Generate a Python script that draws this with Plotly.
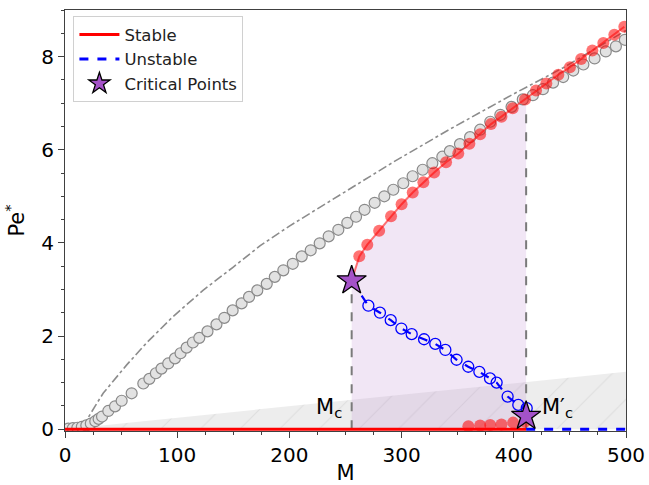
import plotly.graph_objects as go

# ---- data ----
gray_M = [3, 7, 11, 15, 19, 23, 27, 30, 33, 38.6, 44.6, 50.5, 59.4, 69.8, 75.2, 81, 86, 92,
          98, 103, 108.4, 114, 119.7, 127, 135, 142, 149.4, 157.4, 164, 171.4, 179.8, 187,
          194.6, 203, 211, 219, 227, 235, 243.6, 251.6, 259.4, 267, 276, 284.6, 292.6, 301.5,
          309.8, 318.8, 327.4, 336.3, 343, 352, 361, 370, 379, 388, 398, 408, 417, 426, 435,
          444, 453, 462, 472, 482, 491, 499]
gray_Pe = [0.01, 0.02, 0.03, 0.05, 0.08, 0.12, 0.17, 0.22, 0.27, 0.39, 0.49, 0.61, 0.77, 0.98,
           1.08, 1.2, 1.3, 1.41, 1.52, 1.63, 1.75, 1.86, 1.96, 2.1, 2.25, 2.39, 2.55, 2.7, 2.84,
           2.98, 3.12, 3.27, 3.41, 3.55, 3.71, 3.84, 3.99, 4.14, 4.28, 4.43, 4.56, 4.71, 4.86,
           5.0, 5.14, 5.28, 5.43, 5.57, 5.71, 5.85, 5.97, 6.12, 6.27, 6.43, 6.6, 6.75, 6.92,
           7.08, 7.17, 7.3, 7.44, 7.56, 7.7, 7.83, 7.96, 8.11, 8.22, 8.36]

stable_up_M = [262.3, 269.4, 280, 290.6, 300, 309.9, 319.4, 329, 339.6, 350.5, 360.4, 370,
               379.7, 389, 399, 410, 419.8, 429, 439.7, 450, 460, 470, 479.8, 489.6, 498.5]
stable_up_Pe = [3.71, 3.96, 4.26, 4.57, 4.83, 5.08, 5.3, 5.51, 5.73, 5.92, 6.13, 6.33, 6.55,
                6.71, 6.89, 7.08, 7.27, 7.42, 7.61, 7.77, 7.95, 8.13, 8.29, 8.47, 8.64]

unstable_M = [270.4, 280.7, 290.3, 299.8, 309, 320, 330, 339, 349, 359.4, 369.3, 378.8,
              384.7, 394.5, 404, 411.5]
unstable_Pe = [2.65, 2.5, 2.34, 2.16, 2.04, 1.93, 1.83, 1.7, 1.49, 1.34, 1.23, 1.09, 1.0,
               0.7, 0.52, 0.45]

stable_low_M = [359.5, 370, 379, 389, 399.4, 410]
stable_low_Pe = [0.06, 0.08, 0.09, 0.1, 0.14, 0.16]

stable_base_M = [0, 411]
stable_base_Pe = [0, 0]
unstable_base_M = [411, 500]
unstable_base_Pe = [0, 0]

dashdot_M = [15, 20, 27, 34, 55, 73, 96, 123, 150, 174, 200, 251, 293, 343, 400, 444, 500]
dashdot_Pe = [0.05, 0.22, 0.5, 0.77, 1.38, 1.86, 2.41, 2.98, 3.48, 3.94, 4.36, 5.12, 5.74,
              6.44, 7.2, 7.76, 8.56]

wedge_M = [0, 500]
wedge_Pe = [0, 1.23]

crit_M = [255.5, 411]
crit_Pe = [3.19, 0.28]
crit_top_Pe = [3.19, 6.95]
crit_labels = ["M<sub>c</sub>", "M′<sub>c</sub>"]
label_M = [235, 439]
label_Pe = [0.46, 0.46]

x_ticks = [0, 100, 200, 300, 400, 500]
y_ticks = [0, 2, 4, 6, 8]

fig = go.Figure()

# hatched grey wedge
fig.add_trace(go.Scatter(x=wedge_M, y=wedge_Pe, mode="lines", line=dict(width=0, color="rgba(0,0,0,0)"),
                         fill="tozeroy", fillcolor="rgba(232,232,232,0.85)",
                         fillpattern=dict(shape="/", bgcolor="rgba(234,234,234,0.85)",
                                          fgcolor="rgba(205,205,205,0.9)", size=28, solidity=0.04),
                         showlegend=False, hoverinfo="skip"))

# purple bistable region under the upper stable branch
reg_M = [crit_M[0]] + [m for m in stable_up_M if m <= crit_M[1]] + [crit_M[1]]
reg_Pe = [crit_Pe[0]] + [p for m, p in zip(stable_up_M, stable_up_Pe) if m <= crit_M[1]] + [crit_top_Pe[1]]
fig.add_trace(go.Scatter(x=reg_M, y=reg_Pe, mode="lines", line=dict(width=0, color="rgba(0,0,0,0)"),
                         fill="tozeroy", fillcolor="rgba(190,140,210,0.22)",
                         showlegend=False, hoverinfo="skip"))

# dash-dot reference curve
fig.add_trace(go.Scatter(x=dashdot_M, y=dashdot_Pe, mode="lines",
                         line=dict(color="#8c8c8c", width=1.6, dash="dashdot"),
                         showlegend=False))

# grey simulation circles
fig.add_trace(go.Scatter(x=gray_M, y=gray_Pe, mode="markers",
                         marker=dict(size=11, color="#e2e2e2", line=dict(color="#8a8a8a", width=1.2)),
                         showlegend=False))

# vertical dashed lines at critical points
for m, top in zip(crit_M, crit_top_Pe):
    fig.add_trace(go.Scatter(x=[m, m], y=[0, top], mode="lines",
                             line=dict(color="#7a7a7a", width=2, dash="dash"),
                             showlegend=False))

# stable upper branch
fig.add_trace(go.Scatter(x=[crit_M[0]] + stable_up_M, y=[crit_Pe[0]] + stable_up_Pe, mode="lines",
                         line=dict(color="rgba(255,40,40,0.65)", width=2), showlegend=False))
fig.add_trace(go.Scatter(x=stable_up_M, y=stable_up_Pe, mode="markers",
                         marker=dict(size=12, color="rgba(255,0,0,0.55)"), showlegend=False))

# stable lower branch circles
fig.add_trace(go.Scatter(x=stable_low_M, y=stable_low_Pe, mode="markers",
                         marker=dict(size=12, color="rgba(255,0,0,0.55)"), showlegend=False))

# unstable branch
fig.add_trace(go.Scatter(x=[crit_M[0]] + unstable_M + [crit_M[1]],
                         y=[crit_Pe[0]] + unstable_Pe + [crit_Pe[1]], mode="lines",
                         line=dict(color="blue", width=2.2, dash="dash"), showlegend=False))
fig.add_trace(go.Scatter(x=unstable_M, y=unstable_Pe, mode="markers",
                         marker=dict(size=11, color="rgba(0,0,0,0)", line=dict(color="blue", width=1.3)),
                         showlegend=False))

# base lines (legend entries)
fig.add_trace(go.Scatter(x=stable_base_M, y=stable_base_Pe, mode="lines",
                         line=dict(color="red", width=3), name="Stable"))
fig.add_trace(go.Scatter(x=unstable_base_M, y=unstable_base_Pe, mode="lines",
                         line=dict(color="blue", width=3, dash="dash"), name="Unstable"))

# critical points
fig.add_trace(go.Scatter(x=crit_M, y=crit_Pe, mode="markers", name="Critical Points",
                         marker=dict(symbol="star", size=22, color="#a452c8",
                                     line=dict(color="black", width=1.3)),
                         cliponaxis=False))

for txt, m, p in zip(crit_labels, label_M, label_Pe):
    fig.add_annotation(x=m, y=p, text=txt, showarrow=False, xanchor="center", yanchor="middle",
                       font=dict(size=21, color="black", family="DejaVu Sans"))

axis_common = dict(showgrid=False, zeroline=False, showline=True, linecolor="#404040", linewidth=1.2,
                   mirror=True, ticks="outside", ticklen=6, tickwidth=1.2, tickcolor="#404040",
                   automargin=False,
                   tickfont=dict(size=20, family="DejaVu Sans", color="black"))
fig.update_xaxes(range=[0, 500], tickvals=x_ticks,
                 minor=dict(dtick=25, ticks="outside", ticklen=3, tickcolor="#404040"),
                 title=dict(text="M", font=dict(size=21, family="DejaVu Sans", color="black"), standoff=2),
                 **axis_common)
fig.update_yaxes(range=[-0.04, 9], tickvals=y_ticks,
                 minor=dict(dtick=0.5, tick0=0, ticks="outside", ticklen=3, tickcolor="#404040"),
                 title=dict(text="Pe<sup>*</sup>", font=dict(size=21, family="DejaVu Sans", color="black"), standoff=10),
                 **axis_common)

fig.update_layout(
    width=649, height=485,
    margin=dict(l=65, r=23, t=10, b=54),
    plot_bgcolor="white", paper_bgcolor="white",
    font=dict(family="DejaVu Sans", color="black"),
    legend=dict(x=0.015, y=0.985, xanchor="left", yanchor="top",
                bgcolor="rgba(255,255,255,0.9)", bordercolor="#d0d0d0", borderwidth=1,
                font=dict(size=16.5, family="DejaVu Sans", color="#222"), itemwidth=40,
                tracegroupgap=2),
)

fig.write_html("out.html", config={"displayModeBar": False},
               post_script="document.body.style.margin='0px';document.body.style.overflow='hidden';")
